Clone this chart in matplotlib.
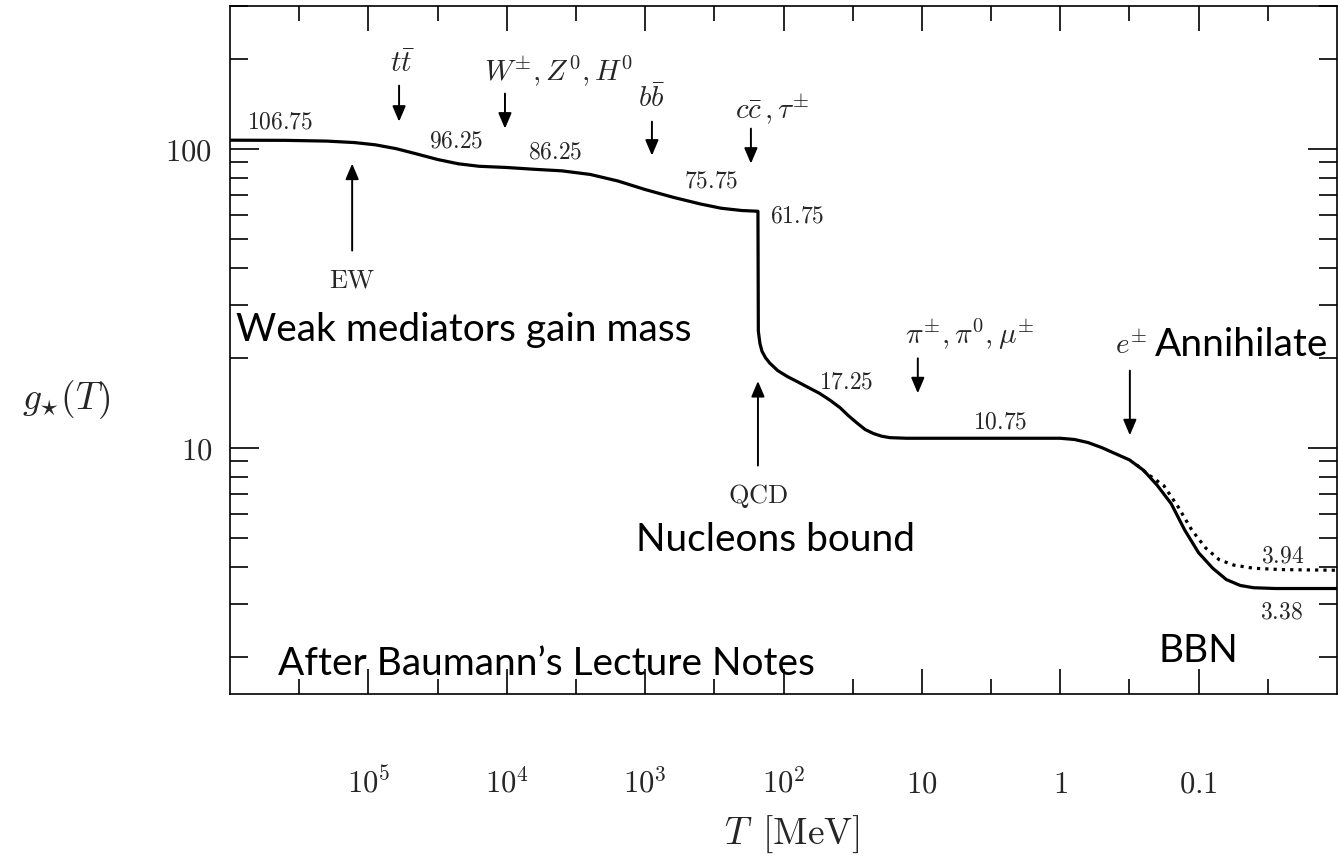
import numpy as np
import matplotlib
matplotlib.use("Agg")
import matplotlib.pyplot as plt
from matplotlib.ticker import FixedLocator, NullFormatter

plt.rcParams['mathtext.fontset'] = 'cm'
plt.rcParams['font.family'] = ['DejaVu Sans']

# ---------------- data ----------------
# effective relativistic degrees of freedom g*(T)  (solid curve), T in MeV
T_gstar = [1.0e6, 3.98e5, 2.0e5, 1.26e5, 8.9e4, 6.3e4, 4.47e4, 3.16e4, 2.24e4, 1.58e4,
           1.0e4, 6.3e3, 4.0e3, 2.5e3, 1.58e3, 1.0e3, 631, 398, 282, 200, 153,
           152, 148, 143, 135, 126, 110, 94, 79, 68, 55, 46, 39, 34, 29.5, 25.7,
           22.4, 19.5, 17, 12.9,
           1.0, 0.79, 0.63, 0.50, 0.40, 0.316, 0.25, 0.20, 0.158, 0.126, 0.10,
           0.079, 0.063, 0.05, 0.04, 0.028, 0.01]
g_star = [106.75, 106.6, 106.0, 104.8, 103, 100, 96, 92, 89, 87.3,
          86.5, 85.3, 84.3, 82, 78, 73, 68.8, 65.3, 63.2, 62.1, 61.75,
          24.5, 22.3, 21.0, 20.0, 19.2, 18.1, 17.3, 16.6, 16.0, 15.2, 14.4, 13.6, 12.8, 12.1, 11.5,
          11.15, 10.92, 10.8, 10.75,
          10.75, 10.65, 10.4, 10.0, 9.55, 9.1, 8.4, 7.5, 6.5, 5.3, 4.45,
          3.95, 3.62, 3.46, 3.40, 3.38, 3.38]

# entropy degrees of freedom g*S(T) after e+e- annihilation (dotted curve)
T_gstarS = [0.28, 0.224, 0.178, 0.141, 0.112, 0.089, 0.071, 0.056, 0.04, 0.025, 0.01]
g_starS = [8.75, 8.05, 7.45, 6.35, 5.3, 4.62, 4.22, 4.05, 3.95, 3.91, 3.89]

x_major = [1e5, 1e4, 1e3, 1e2, 1e1, 1, 0.1]
x_major_labels = [r'$10^5$', r'$10^4$', r'$10^3$', r'$10^2$', r'$10$', r'$1$', r'$0.1$']
x_minor = [10 ** 5.5, 10 ** 4.5, 10 ** 3.5, 10 ** 2.5, 10 ** 1.5, 10 ** 0.5,
           10 ** -0.5, 10 ** -1.5]
y_major = [10, 100]
y_major_labels = [r'$10$', r'$100$']
y_minor = [2, 3, 4, 5, 6, 7, 8, 9, 20, 30, 40, 50, 60, 70, 80, 90, 200, 300]

# plateau value labels: (text, T, g)
value_labels = ['106.75', '96.25', '86.25', '75.75', '61.75', '17.25', '10.75', '3.94', '3.38']
value_T = [4.35e5, 2.33e4, 4.49e3, 335, 80, 35.4, 2.73, 0.0247, 0.0251]
value_g = [123.1, 106.4, 97.7, 78.2, 59.7, 16.6, 12.2, 4.36, 2.83]

# particle annihilation labels and arrows
particle_labels = [r'$t\bar{t}$', r'$W^{\pm}, Z^0, H^0$', r'$b\bar{b}$',
                   r'$c\bar{c}\,,\tau^{\pm}$', r'$\pi^{\pm}, \pi^0, \mu^{\pm}$', r'$e^{\pm}$']
particle_T = [5.71e4, 4.2e3, 893, 121, 4.5, 0.309]
particle_g = [192, 182, 147, 136, 24.0, 21.9]
arrow_T = [6.0e4, 1.03e4, 893, 172, 10.7, 0.314]
arrow_g_top = [162.5, 152.8, 123.1, 116.7, 19.9, 18.1]
arrow_g_bot = [123.1, 116.7, 94.8, 89.1, 15.2, 11.0]

# phase transitions (upward arrows)
transition_labels = [r'$\mathrm{EW}$', r'$\mathrm{QCD}$']
transition_T = [1.31e5, 153]
transition_g_tail = [45.6, 8.71]
transition_g_head = [89.1, 16.7]
transition_label_g = [36.2, 6.9]

W, H = 1338, 858
fig = plt.figure(figsize=(W / 100, H / 100), dpi=100)
L, R, TOP, BOT = 230, 1337, 6, 694
ax = fig.add_axes([L / W, 1 - BOT / H, (R - L) / W, (BOT - TOP) / H])

def fx(px):
    return px / W

def fy(py):
    return 1 - py / H

ink = '#262626'

ax.plot(T_gstar, g_star, color='black', lw=2.3, solid_joinstyle='round')
ax.plot(T_gstarS, g_starS, color='black', lw=2.3, linestyle=(0, (1.0, 1.6)))

ax.set_xscale('log')
ax.set_yscale('log')
ax.set_xlim(1e6, 1e-2)
ax.set_ylim(1.5, 300)

ax.set_xticks(x_major, labels=x_major_labels)
ax.xaxis.set_minor_locator(FixedLocator(x_minor))
ax.xaxis.set_minor_formatter(NullFormatter())
ax.set_yticks(y_major, labels=y_major_labels)
ax.yaxis.set_minor_locator(FixedLocator(y_minor))
ax.yaxis.set_minor_formatter(NullFormatter())

ax.tick_params(which='both', direction='in', top=True, right=True, width=1.2,
               colors='black', labelcolor=ink, labelsize=22)
ax.tick_params(axis='x', which='major', length=18, pad=71)
ax.tick_params(axis='x', which='minor', length=11)
ax.tick_params(axis='y', which='major', length=21, pad=13)
ax.tick_params(axis='y', which='minor', length=13)
for t in ax.xaxis.get_major_ticks():
    t.label1.set_va('baseline')
for s in ax.spines.values():
    s.set_linewidth(1.2)

# value labels
for txt, tv, gv in zip(value_labels, value_T, value_g):
    ax.text(tv, gv, '$' + txt + '$', fontsize=17, color=ink, ha='center', va='center')

# particle labels + downward arrows
for lab, tv, gv in zip(particle_labels, particle_T, particle_g):
    ax.text(tv, gv, lab, fontsize=21, color=ink, ha='center', va='center')
for tv, g1, g2 in zip(arrow_T, arrow_g_top, arrow_g_bot):
    ax.annotate('', xy=(tv, g2), xytext=(tv, g1),
                arrowprops=dict(arrowstyle='-|>,head_length=0.47,head_width=0.2',
                                mutation_scale=20, lw=1.4, color='black',
                                shrinkA=0, shrinkB=0))

# transitions
for lab, tv, g1, g2, gl in zip(transition_labels, transition_T, transition_g_tail,
                               transition_g_head, transition_label_g):
    ax.annotate('', xy=(tv, g2), xytext=(tv, g1),
                arrowprops=dict(arrowstyle='-|>,head_length=0.47,head_width=0.2',
                                mutation_scale=20, lw=1.4, color='black',
                                shrinkA=0, shrinkB=0))
    ax.text(tv, gl, lab, fontsize=19, color=ink, ha='center', va='center')

# axis labels
fig.text(fx(66), fy(400), r'$g_{\star}(T)$', fontsize=27, color=ink, ha='center', va='center')
fig.text(fx(792), fy(814), r'$T\ \,[\mathrm{MeV}]$', fontsize=27, color=ink, ha='center', va='top')

# overlay annotations
ofont = dict(family=['Lato', 'DejaVu Sans'], fontsize=28, color='black')
fig.text(fx(236), fy(330), 'Weak mediators gain mass', ha='left', va='center', **ofont)
fig.text(fx(775), fy(540), 'Nucleons bound', ha='center', va='center', **ofont)
fig.text(fx(1155), fy(345), 'Annihilate', ha='left', va='center', **ofont)
fig.text(fx(1198), fy(651), 'BBN', ha='center', va='center', **ofont)
fig.text(fx(278), fy(664), 'After Baumann\u2019s Lecture Notes', ha='left', va='center', **ofont)

fig.savefig('out.png', dpi=100)
